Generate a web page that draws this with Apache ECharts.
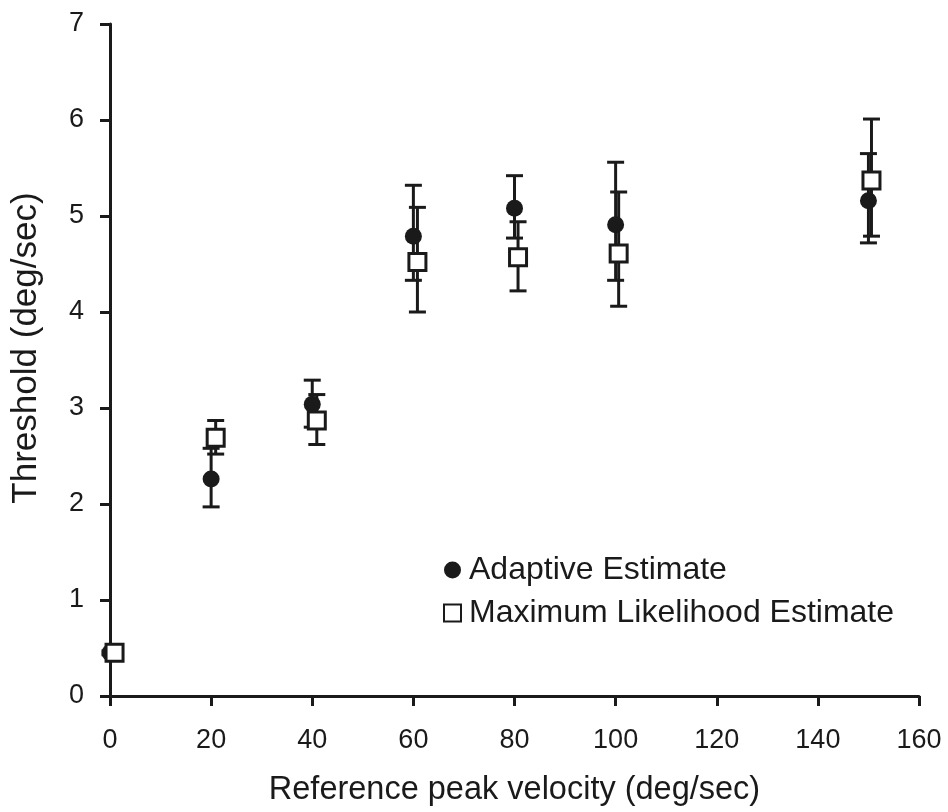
<!DOCTYPE html>
<html>
<head>
<meta charset="utf-8">
<title>Threshold vs reference peak velocity</title>
<script src="https://cdn.jsdelivr.net/npm/echarts@6/dist/echarts.min.js"></script>
<style>
  html, body { margin: 0; padding: 0; background: #fff; }
  #chart { width: 948px; height: 812px; }
</style>
</head>
<body>
<div id="chart"></div>
<script>
// data
var xTicks = [0, 20, 40, 60, 80, 100, 120, 140, 160];

var adaptiveX = [0, 20, 40, 60, 80, 100, 150];
var adaptiveY = [0.45, 2.26, 3.04, 4.79, 5.08, 4.91, 5.16];
var adaptiveLo = [0.43, 1.97, 2.80, 4.33, 4.77, 4.33, 4.72];
var adaptiveHi = [0.47, 2.58, 3.29, 5.32, 5.42, 5.56, 5.65];

// squares sit a little to the right of each velocity in the original
var mleX = [0.9, 20.9, 40.9, 60.8, 80.7, 100.6, 150.6];
var mleY = [0.45, 2.69, 2.87, 4.52, 4.57, 4.61, 5.37];
var mleLo = [0.42, 2.52, 2.62, 4.00, 4.22, 4.06, 4.79];
var mleHi = [0.48, 2.87, 3.14, 5.09, 4.94, 5.25, 6.01];

var ink = '#1a1a1a';
var font = '"Liberation Sans", Arial, Helvetica, sans-serif';

function pairs(xs, ys) {
    return xs.map(function (x, i) { return [x, ys[i]]; });
}
function bars(xs, lo, hi) {
    return xs.map(function (x, i) { return [x, lo[i], hi[i]]; });
}

// vertical bar with caps
function renderBar(params, api) {
    var top = api.coord([api.value(0), api.value(2)]);
    var bot = api.coord([api.value(0), api.value(1)]);
    var hw = 8.5;
    var st = { stroke: ink, lineWidth: 3 };
    return {
        type: 'group',
        children: [
            { type: 'line', shape: { x1: top[0], y1: top[1], x2: bot[0], y2: bot[1] }, style: st },
            { type: 'line', shape: { x1: top[0] - hw, y1: top[1], x2: top[0] + hw, y2: top[1] }, style: st },
            { type: 'line', shape: { x1: bot[0] - hw, y1: bot[1], x2: bot[0] + hw, y2: bot[1] }, style: st }
        ]
    };
}

var chart = echarts.init(document.getElementById('chart'));

var option = {
    backgroundColor: '#fff',
    animation: false,
    grid: { left: 110, right: 29, top: 24, bottom: 116 },
    legend: {
        data: ['Adaptive Estimate', 'Maximum Likelihood Estimate'],
        orient: 'vertical',
        left: 438,
        top: 549,
        itemWidth: 17,
        itemHeight: 17,
        itemGap: 11,
        selectedMode: false,
        textStyle: { fontFamily: font, fontSize: 32, color: ink, padding: [0, 0, 0, 3] }
    },
    xAxis: {
        type: 'value',
        min: 0,
        max: 160,
        interval: 20,
        name: 'Reference peak velocity (deg/sec)',
        nameLocation: 'middle',
        nameGap: 78,
        nameTextStyle: { fontFamily: font, fontSize: 32.5, color: ink },
        axisLine: { lineStyle: { color: ink, width: 3 } },
        axisTick: { inside: false, length: 10, lineStyle: { color: ink, width: 3 } },
        axisLabel: {
            fontFamily: font, fontSize: 27, color: ink, margin: 31,
            formatter: function (v) { return xTicks.indexOf(v) >= 0 ? String(v) : ''; }
        },
        splitLine: { show: false }
    },
    yAxis: {
        type: 'value',
        min: 0,
        max: 7,
        interval: 1,
        name: 'Threshold (deg/sec)',
        nameLocation: 'middle',
        nameGap: 66,
        nameTextStyle: { fontFamily: font, fontSize: 35, color: ink, padding: [0, 0, 0, 24] },
        axisLine: { show: true, lineStyle: { color: ink, width: 3 } },
        axisTick: { show: true, inside: false, length: 10, lineStyle: { color: ink, width: 3 } },
        axisLabel: { fontFamily: font, fontSize: 27, color: ink, margin: 26 },
        splitLine: { show: false }
    },
    series: [
        {
            name: 'adaptive-err',
            type: 'custom',
            renderItem: renderBar,
            data: bars(adaptiveX, adaptiveLo, adaptiveHi),
            z: 1
        },
        {
            name: 'mle-err',
            type: 'custom',
            renderItem: renderBar,
            data: bars(mleX, mleLo, mleHi),
            z: 1
        },
        {
            name: 'Adaptive Estimate',
            type: 'scatter',
            symbol: 'circle',
            symbolSize: 17,
            itemStyle: { color: ink, opacity: 1 },
            data: pairs(adaptiveX, adaptiveY),
            z: 2
        },
        {
            name: 'Maximum Likelihood Estimate',
            type: 'scatter',
            symbol: 'rect',
            symbolSize: 17,
            itemStyle: { color: '#fff', borderColor: ink, borderWidth: 3, opacity: 1 },
            data: pairs(mleX, mleY),
            z: 3
        }
    ]
};

chart.setOption(option);
window.onresize = function () {
    chart.resize();
};
</script>
</body>
</html>
